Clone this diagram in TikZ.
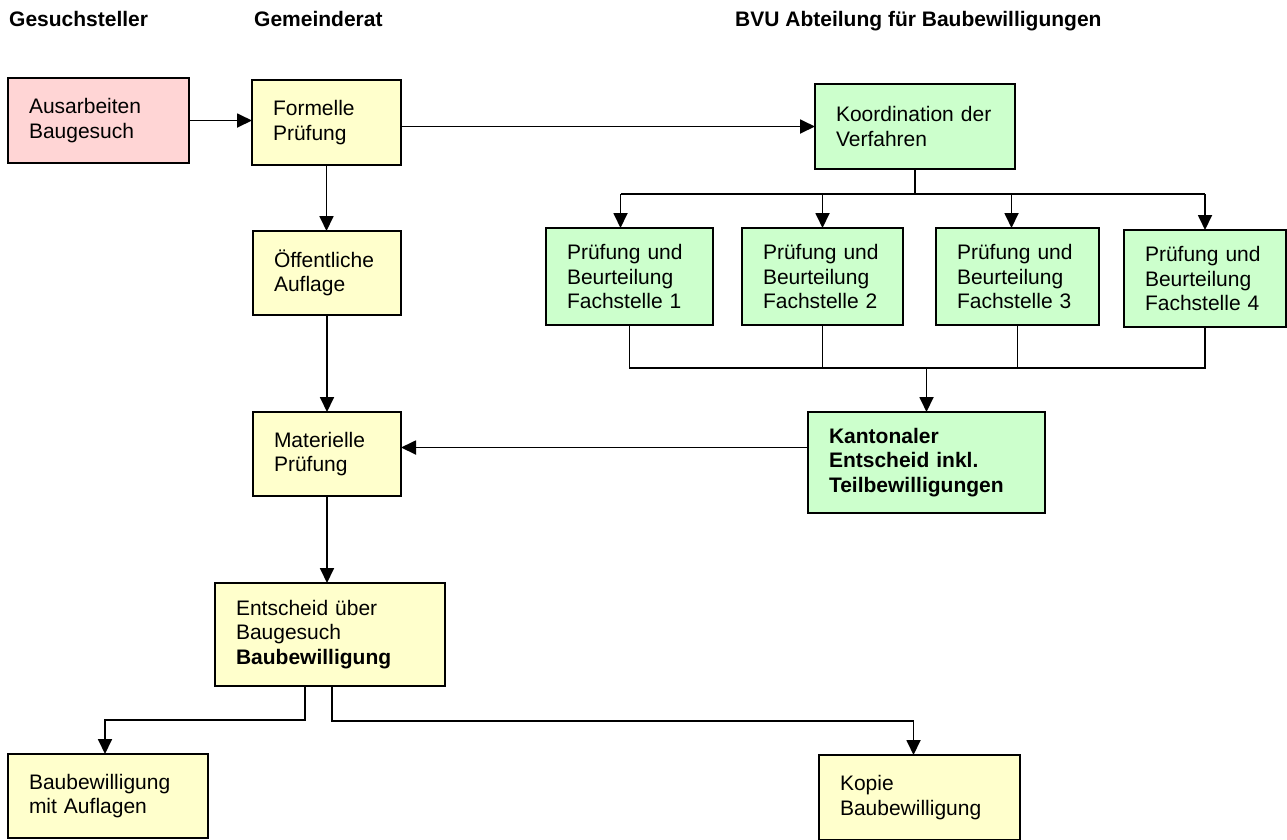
\documentclass[tikz,border=0pt]{standalone}
\usepackage{fontspec}
\setmainfont{Liberation Sans}
\usetikzlibrary{arrows.meta}
\definecolor{pinkfill}{HTML}{FFD5D5}
\definecolor{yellowfill}{HTML}{FFFFCC}
\definecolor{greenfill}{HTML}{CCFFCC}
\newcommand{\boxfont}{\fontsize{21}{24.5}\selectfont}
\tikzset{
  box/.style={draw, line width=2pt, outer sep=0pt, inner xsep=21pt, inner ysep=0pt,
    align=left, anchor=north west, font=\boxfont},
  pinkbox/.style={box, fill=pinkfill},
  yellowbox/.style={box, fill=yellowfill},
  greenbox/.style={box, fill=greenfill},
  header/.style={anchor=base west, inner sep=0pt, font=\boxfont\bfseries},
  conn/.style={line width=1.8pt},
  arr/.style={conn, -{Triangle[length=15pt,width=14pt]}},
  bus/.style={line width=2.8pt}
}
\begin{document}
\begin{tikzpicture}[x=1pt,y=-1pt]
\useasboundingbox (0,0) rectangle (1287,839);

% headers
\node[header] (h1) at (9,26) {Gesuchsteller};
\node[header] (h2) at (254,26) {Gemeinderat};
\node[header] (h3) at (735,26) {BVU Abteilung für Baubewilligungen};

% boxes
\node[pinkbox, text width=139pt, minimum height=85pt] (aus) at (8,78) {Ausarbeiten\\Baugesuch};
\node[yellowbox, text width=107pt, minimum height=85pt] (form) at (252,80) {Formelle\\Prüfung};
\node[yellowbox, text width=106pt, minimum height=84pt] (oef) at (253,231) {Öffentliche\\Auflage};
\node[yellowbox, text width=106pt, minimum height=84pt] (mat) at (253,412) {Materielle\\Prüfung};
\node[yellowbox, text width=188pt, minimum height=103pt] (ent) at (215,583) {Entscheid über\\Baugesuch\\\textbf{Baubewilligung}};
\node[yellowbox, text width=158pt, minimum height=84pt] (bma) at (8,754) {Baubewilligung\\mit Auflagen};
\node[yellowbox, text width=159pt, minimum height=85pt] (kop) at (819,755) {Kopie\\Baubewilligung};

\node[greenbox, text width=158pt, minimum height=85pt] (koord) at (815,84) {Koordination der\\Verfahren};
\node[greenbox, text width=125pt, minimum height=97pt] (f1) at (546,228) {Prüfung und\\Beurteilung\\Fachstelle 1};
\node[greenbox, text width=119pt, minimum height=97pt] (f2) at (742,228) {Prüfung und\\Beurteilung\\Fachstelle 2};
\node[greenbox, text width=121pt, minimum height=97pt] (f3) at (936,228) {Prüfung und\\Beurteilung\\Fachstelle 3};
\node[greenbox, text width=120pt, minimum height=97pt] (f4) at (1124,230) {Prüfung und\\Beurteilung\\Fachstelle 4};
\node[greenbox, text width=195pt, minimum height=101pt, font=\boxfont\bfseries] (kant) at (808,412) {Kantonaler\\Entscheid inkl.\\Teilbewilligungen};

% helper coordinates
\coordinate (busy) at (0,194);
\coordinate (coly) at (0,368);
\coordinate (f1t) at ([xshift=-9pt]f1.north);
\coordinate (f3t) at ([xshift=-6pt]f3.north);

% connectors
\draw[arr] (aus.east) -- (aus.east -| form.west);
\draw[arr] (koord.west -| form.east) -- (koord.west);
\draw[arr] (form.south) -- (form.south |- oef.north);
\draw[arr] (oef.south) -- (oef.south |- mat.north);
\draw[arr] (mat.south) -- (mat.south |- ent.north);
\draw[arr] ([yshift=15pt]kant.west) -- ([yshift=15pt]kant.west -| mat.east);

% distribution to Fachstellen
\draw[bus] (koord.south) -- (koord.south |- busy);
\draw[bus] (f1t |- busy) -- (f4.north |- busy);
\draw[arr] (f1t |- busy) -- (f1t);
\draw[arr] (f2.north |- busy) -- (f2.north);
\draw[arr] (f3t |- busy) -- (f3t);
\draw[arr] (f4.north |- busy) -- (f4.north);

% collection to Kantonaler Entscheid
\draw[conn] (f1.south) -- (f1.south |- coly) -- (f4.south |- coly) -- (f4.south);
\draw[conn] (f2.south) -- (f2.south |- coly);
\draw[conn] (f3.south) -- (f3.south |- coly);
\draw[arr] (kant.north |- coly) -- (kant.north);

% bottom branches
\coordinate (e1) at ([xshift=-25pt]ent.south);
\coordinate (e2) at ([xshift=2pt]ent.south);
\coordinate (bmat) at ([xshift=-3pt]bma.north);
\coordinate (kopt) at ([xshift=-6pt]kop.north);
\draw[arr] (e1) -- (e1 |- 0,720) -- (bmat |- 0,720) -- (bmat);
\draw[arr] (e2) -- (e2 |- 0,721) -- (kopt |- 0,721) -- (kopt);
\end{tikzpicture}
\end{document}
